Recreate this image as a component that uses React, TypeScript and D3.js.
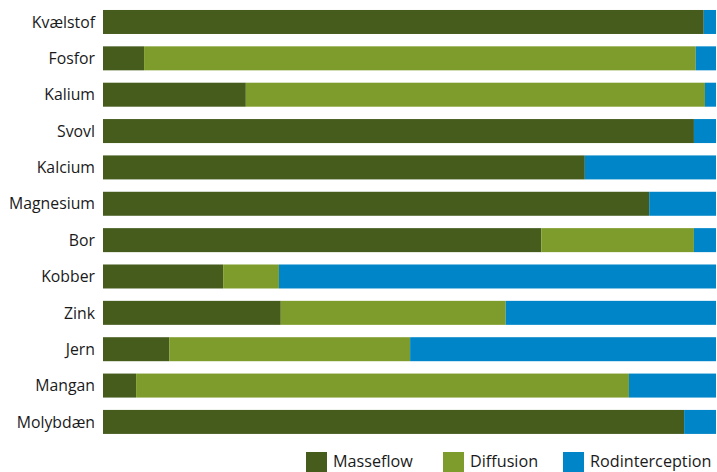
import React from "react";
import * as d3 from "d3";

const categories = ["Kvælstof", "Fosfor", "Kalium", "Svovl", "Kalcium", "Magnesium", "Bor", "Kobber", "Zink", "Jern", "Mangan", "Molybdæn"];
const seriesNames = ["Masseflow", "Diffusion", "Rodinterception"];
const masseflow = [98.0, 6.7, 23.3, 96.4, 78.6, 89.1, 71.5, 19.6, 29.0, 10.8, 5.4, 94.8];
const diffusion = [0, 90.0, 74.9, 0, 0, 0, 24.9, 9.1, 36.7, 39.3, 80.4, 0];
const rodinterception = [2.0, 3.3, 1.8, 3.6, 21.4, 10.9, 3.6, 71.3, 34.3, 49.9, 14.2, 5.2];
const colors = ["#455C1D", "#7E9C2B", "#0086C8"];

export default function App() {
  const W = 717, H = 472;
  const rows = categories.map((c, i) => ({
    cat: c,
    Masseflow: masseflow[i],
    Diffusion: diffusion[i],
    Rodinterception: rodinterception[i],
  }));
  const stack = d3.stack<any>().keys(seriesNames).offset(d3.stackOffsetExpand);
  const layers = stack(rows);
  const x = d3.scaleLinear().domain([0, 1]).range([103, 716]);
  const y = d3.scaleBand().domain(categories).range([3.8, 440.1]).paddingInner(0.34).paddingOuter(0.17);
  const font = "'Open Sans', sans-serif";
  const legendX = [306, 443, 563];
  return (
    <svg width={W} height={H} style={{ position: "absolute", left: 0, top: 0, background: "#fff" }}>
      {layers.map((layer, li) => (
        <g key={li} fill={colors[li]}>
          {layer.map((d, i) => (
            <rect key={i} x={x(d[0])} y={y(categories[i])} width={Math.max(0, x(d[1]) - x(d[0]))} height={y.bandwidth()} />
          ))}
        </g>
      ))}
      {categories.map((c) => (
        <text key={c} x={95} y={(y(c) as number) + y.bandwidth() / 2} dy="0.36em" textAnchor="end" fontFamily={font} fontSize={15.8} fill="#1a1a1a">{c}</text>
      ))}
      {seriesNames.map((s, i) => (
        <g key={s}>
          <rect x={legendX[i]} y={452} width={21} height={21} fill={colors[i]} />
          <text x={legendX[i] + 27} y={467} fontFamily={font} fontSize={16.2} fill="#1a1a1a">{s}</text>
        </g>
      ))}
    </svg>
  );
}
